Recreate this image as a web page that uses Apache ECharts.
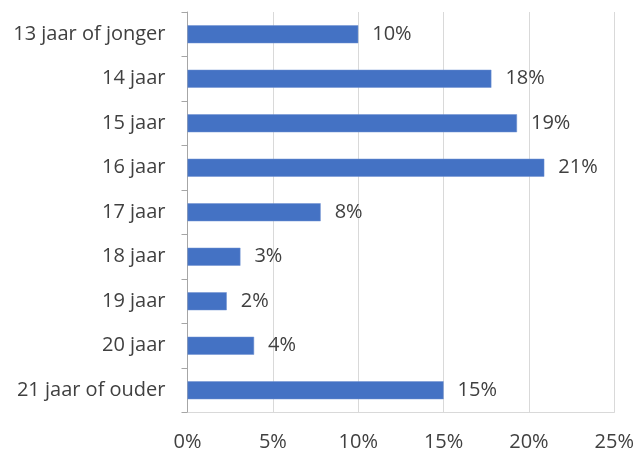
<!DOCTYPE html>
<html>
<head>
<meta charset="utf-8">
<script src="https://cdn.jsdelivr.net/npm/echarts@6/dist/echarts.min.js"></script>
<style>
  html, body { margin: 0; padding: 0; background: #fff; }
  #chart { width: 637px; height: 453px; }
</style>
</head>
<body>
<div id="chart"></div>
<script>
// categories top to bottom
var categories = [
  "13 jaar of jonger", "14 jaar", "15 jaar", "16 jaar", "17 jaar",
  "18 jaar", "19 jaar", "20 jaar", "21 jaar of ouder"
];
// percentages
var values = [10.0, 17.8, 19.3, 20.9, 7.8, 3.1, 2.3, 3.9, 15.0];
var xTicks = [0, 5, 10, 15, 20, 25];

var myChart = echarts.init(document.getElementById("chart"));
var font = "'Open Sans', 'Noto Sans', sans-serif";

var option = {
  animation: false,
  grid: { left: 187.5, right: 21.5, top: 12, bottom: 40.5, containLabel: false },
  xAxis: {
    type: "value",
    min: xTicks[0],
    max: xTicks[xTicks.length - 1],
    interval: 5,
    axisLine: { show: true, lineStyle: { color: "#d9d9d9", width: 1 } },
    axisTick: { show: false },
    axisLabel: {
      formatter: "{value}%",
      color: "#404040",
      fontSize: 20,
      fontFamily: font,
      margin: 20
    },
    splitLine: { lineStyle: { color: "#d9d9d9", width: 1 } }
  },
  yAxis: {
    type: "category",
    data: categories,
    inverse: true,
    axisLine: { lineStyle: { color: "#a6a6a6", width: 1 } },
    axisTick: { show: true, length: 6, lineStyle: { color: "#a6a6a6" } },
    axisLabel: {
      color: "#404040",
      fontSize: 20,
      fontFamily: font,
      margin: 22
    }
  },
  series: [
    {
      type: "bar",
      data: values,
      barWidth: 18,
      itemStyle: { color: "#4472C4", borderColor: "#6f91d1", borderWidth: 0.5 },
      label: {
        show: true,
        position: "right",
        distance: 14,
        color: "#404040",
        fontSize: 20,
        fontFamily: font,
        formatter: function (p) { return Math.round(p.value) + "%"; }
      }
    }
  ]
};

myChart.setOption(option);
</script>
</body>
</html>
